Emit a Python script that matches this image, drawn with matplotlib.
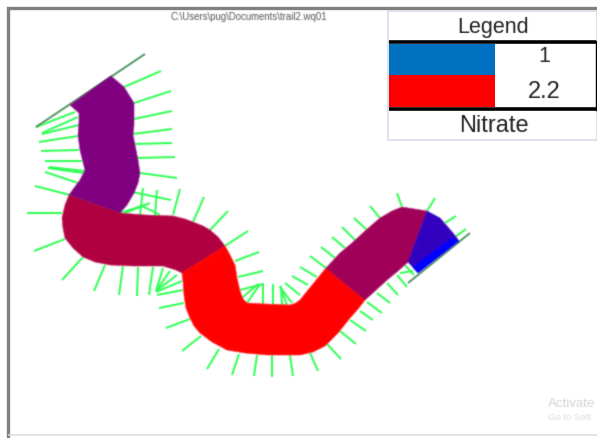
import matplotlib
matplotlib.use('Agg')
import matplotlib.pyplot as plt
import numpy as np
from matplotlib.patches import Polygon, Rectangle
from matplotlib.collections import LineCollection, PatchCollection

W = 597
H = 438

# plume segments, outline points
seg_purple = [(70, 105), (111, 76), (124, 87), (134, 103), (134, 125), (133, 135), (135, 145), (138, 160), (140, 173),
              (138, 183), (134, 193), (127, 205), (120, 213), (69, 195), (74, 188), (80, 180), (85, 170), (83, 162),
              (80, 150), (78, 135), (79, 122), (79, 113)]
seg_crimson = [(69, 195), (120, 213), (145, 215), (173, 216), (185, 219), (193, 222), (203, 226), (210, 230),
               (218, 237), (225, 246), (182, 273), (176, 270), (163, 266), (133, 266), (110, 265), (95, 262),
               (83, 257), (73, 248), (65, 238), (63, 228), (62, 218), (65, 205)]
seg_red = [(225, 246), (230, 255), (235, 265), (237, 278), (240, 291), (243, 299), (247, 303), (265, 304), (290, 305),
           (296, 303), (300, 300), (313, 284), (326, 268), (365, 300), (358, 309), (350, 318), (338, 333), (325, 346),
           (313, 352), (300, 355), (267, 355), (245, 353), (227, 350), (212, 342), (200, 333), (194, 326), (190, 318),
           (186, 308), (184, 295), (183, 281), (182, 273)]
seg_magenta = [(326, 268), (340, 253), (352, 243), (365, 231), (380, 218), (392, 211), (402, 207), (427, 211),
               (408, 262), (398, 271), (387, 280), (375, 291), (365, 300)]
seg_indigo = [(427, 211), (440, 218), (453, 233), (459, 241), (418, 273), (408, 262)]
seg_blue = [(459, 241), (452, 238), (413, 267), (418, 273)]

segments = [seg_purple, seg_crimson, seg_red, seg_magenta, seg_indigo, seg_blue]
seg_colors = ['#800080', '#B00040', '#FF0000', '#A00058', '#3300C0', '#0000FF']

# end lines of the trail
end_lines = [[(36, 127), (145, 54)], [(408, 283), (470, 233)]]

# green normals, one pair of points each
right_top = [[(124, 87), (161, 71)], [(134, 103), (171, 91)], [(134, 119), (172, 111)], [(133, 134), (172, 129)],
             [(135, 144), (172, 143)], [(137, 158), (175, 157)], [(140, 173), (177, 178)], [(132, 192), (171, 200)],
             [(157, 190), (155, 216)], [(143, 188), (140, 216)], [(173, 215), (180, 189)], [(193, 222), (204, 197)],
             [(210, 230), (228, 211)], [(225, 246), (248, 231)], [(235, 261), (259, 252)], [(238, 277), (263, 271)],
             [(120, 213), (145, 205)], [(140, 205), (160, 215)], [(125, 213), (150, 203)]]
left_top = [[(75, 112), (36, 127)], [(78, 117), (42, 133)], [(79, 125), (42, 134)], [(78, 136), (39, 142)],
            [(79, 150), (41, 151)], [(82, 161), (45, 161)], [(85, 171), (49, 167)], [(83, 173), (48, 168)],
            [(78, 183), (45, 172)], [(70, 195), (35, 186)], [(62, 213), (27, 213)], [(65, 239), (34, 251)],
            [(83, 257), (62, 280)], [(105, 265), (94, 291)], [(123, 266), (119, 295)], [(138, 267), (137, 296)],
            [(153, 267), (149, 295)], [(163, 268), (156, 291)], [(170, 271), (156, 291)], [(177, 275), (156, 291)],
            [(182, 281), (156, 292)], [(183, 290), (157, 295)], [(184, 303), (159, 308)], [(190, 319), (166, 328)],
            [(201, 336), (182, 351)], [(219, 349), (207, 369)], [(239, 354), (232, 375)], [(257, 355), (254, 376)],
            [(272, 355), (272, 377)], [(290, 355), (293, 376)]]
lower_right = [[(310, 353), (318, 371)], [(327, 344), (341, 359)], [(340, 331), (356, 344)], [(350, 320), (366, 331)],
               [(360, 311), (373, 320)], [(367, 302), (382, 313)], [(377, 293), (390, 303)], [(387, 283), (398, 295)],
               [(397, 275), (407, 287)], [(405, 265), (414, 275)], [(400, 273), (413, 271)]]
inner_bend = [[(240, 290), (263, 284)], [(242, 298), (258, 284)], [(247, 303), (260, 284)], [(263, 304), (263, 283)],
              [(273, 305), (273, 284)], [(282, 305), (281, 286)], [(287, 305), (280, 286)], [(292, 303), (280, 287)],
              [(300, 295), (285, 283)], [(308, 285), (292, 276)], [(317, 277), (300, 267)], [(326, 268), (310, 256)],
              [(335, 258), (321, 247)], [(345, 248), (332, 237)], [(355, 240), (342, 227)], [(367, 230), (354, 218)],
              [(380, 218), (370, 206)], [(402, 207), (397, 193)], [(427, 211), (435, 198)], [(445, 223), (456, 216)],
              [(455, 237), (466, 229)]]

# legend
legend_title = 'Legend'
legend_labels = ['1', '2.2']
legend_colors = ['#0070C0', '#FF0000']
legend_field = 'Nitrate'
file_path = 'C:\\Users\\pug\\Documents\\trail2.wq01'

plt.rcParams['font.family'] = ['Liberation Sans', 'DejaVu Sans']


# the reference is a soft screenshot, so soften the marks a little
def soften(sigma):
    x = np.arange(-3, 4)
    kernel = np.exp(-x * x / (2 * sigma * sigma))
    kernel = kernel / kernel.sum()

    def filt(img, dpi):
        pad = 4
        out = np.zeros((img.shape[0] + 2 * pad, img.shape[1] + 2 * pad, 4))
        out[pad:-pad, pad:-pad] = img
        out[:, :, :3] *= out[:, :, 3:]
        out = np.apply_along_axis(np.convolve, 0, out, kernel, mode='same')
        out = np.apply_along_axis(np.convolve, 1, out, kernel, mode='same')
        alpha = np.clip(out[:, :, 3:], 1e-4, None)
        out[:, :, :3] = np.clip(out[:, :, :3] / alpha, 0, 1)
        return out, -pad, -pad

    return filt


fig = plt.figure(figsize=(W / 100, H / 100), dpi=100)
ax = fig.add_axes([0, 0, 1, 1])
ax.set_xlim(0, W)
ax.set_ylim(H, 0)
ax.axis('off')

# window frame
ax.plot([7.5, 7.5, W], [H, 7.5, 7.5], color='#808080', lw=2.4, solid_joinstyle='miter', zorder=1)
ax.plot([9, W], [434.5, 434.5], color='#DDDDDD', lw=1.2, zorder=1)

ax.text(249, 16.5, file_path, fontsize=6.9, color='#555555', ha='center', va='center',
        agg_filter=soften(0.6))

green = '#2CFF50'
for group in [right_top, left_top, lower_right, inner_bend]:
    ax.add_collection(LineCollection(group, colors=green, linewidths=1.4, zorder=2, agg_filter=soften(0.6)))
ax.add_collection(LineCollection(end_lines, colors='#4F9560', linewidths=1.4, zorder=2, agg_filter=soften(0.6)))

# all segments in one artist, so the soft edges do not open seams between them
polys = [Polygon(pts, closed=True) for pts in segments]
ax.add_collection(PatchCollection(polys, match_original=False, facecolors=seg_colors, edgecolors=seg_colors,
                                  linewidths=0.3, zorder=3, agg_filter=soften(0.7)))

# legend box
ax.add_patch(Rectangle((388, 10.5), 209, 129, facecolor='white', edgecolor='#D8DCEC', lw=1.2, zorder=4))
ax.add_patch(Rectangle((389, 44), 106, 31, facecolor=legend_colors[0], lw=0, zorder=5))
ax.add_patch(Rectangle((389, 74.5), 106, 32, facecolor=legend_colors[1], lw=0, zorder=5))
ax.plot([389, 596], [42, 42], color='black', lw=2.6, solid_capstyle='butt', zorder=6)
ax.plot([389, 596], [108.5, 108.5], color='black', lw=2.6, solid_capstyle='butt', zorder=6)
ax.plot([596, 596], [41, 110], color='black', lw=1.0, zorder=6)

txt = soften(0.5)
ax.text(493, 27, legend_title, fontsize=15.5, color='#222222', ha='center', va='center', zorder=7, agg_filter=txt)
ax.text(544, 56, legend_labels[0], fontsize=15.5, color='#222222', ha='center', va='center', zorder=7, agg_filter=txt)
ax.text(544, 92, legend_labels[1], fontsize=17, color='#222222', ha='center', va='center', zorder=7, agg_filter=txt)
ax.text(494, 126, legend_field, fontsize=17, color='#222222', ha='center', va='center', zorder=7, agg_filter=txt)

# windows watermark, only the part that shows in the picture
ax.text(548, 404, 'Activate', fontsize=9.5, color='#D4D4D4', ha='left', va='center', agg_filter=soften(0.5))
ax.text(548, 418, 'Go to Sett', fontsize=6.8, color='#DEDEDE', ha='left', va='center', agg_filter=soften(0.5))

fig.savefig('out.png', dpi=100)
